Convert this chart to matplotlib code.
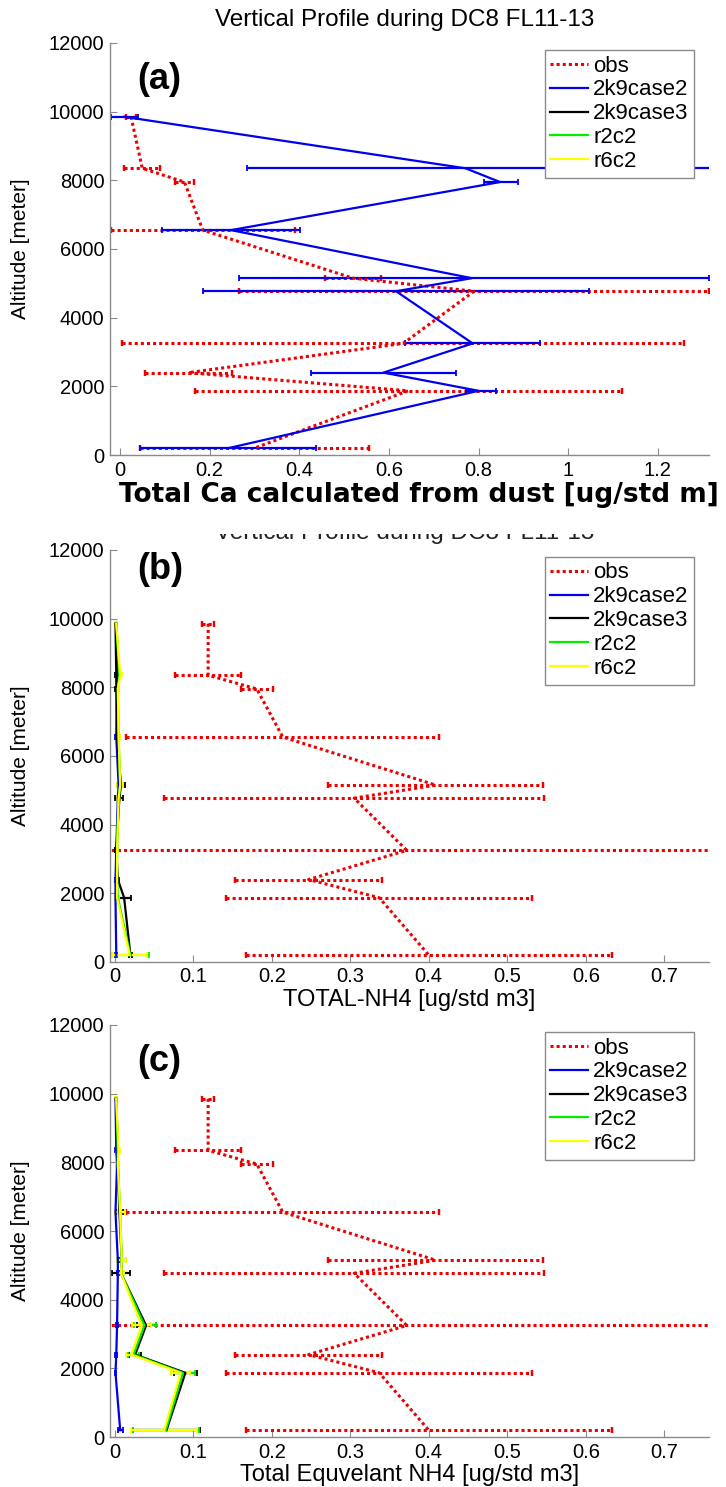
import matplotlib
matplotlib.use("Agg")
import matplotlib.pyplot as plt
from matplotlib.ticker import FuncFormatter, MultipleLocator
from matplotlib.transforms import Bbox, TransformedBbox

plt.rcParams['font.family'] = ['Liberation Sans', 'DejaVu Sans']

# flight levels of the DC8 profile (m)
altitude = [9850, 8350, 7950, 6550, 5150, 4770, 3250, 2400, 1870, 200]

# (a) total Ca from dust
ca_obs = [0.025, 0.05, 0.144, 0.185, 0.52, 0.79, 0.632, 0.153, 0.643, 0.30]
ca_obs_err = [0.012, 0.04, 0.022, 0.205, 0.062, 0.525, 0.627, 0.097, 0.476, 0.255]
ca_case2 = [0.01, 0.771, 0.848, 0.248, 0.785, 0.616, 0.787, 0.588, 0.80, 0.242]
ca_case2_err_lo = [0.03, 0.487, 0.036, 0.153, 0.52, 0.431, 0.151, 0.161, 0.029, 0.197]
ca_case2_err_hi = [0.03, 0.56, 0.041, 0.153, 0.53, 0.431, 0.151, 0.161, 0.039, 0.196]

# (b) TOTAL-NH4
nh4_obs = [0.119, 0.119, 0.181, 0.214, 0.409, 0.305, 0.372, 0.247, 0.337, 0.40]
nh4_obs_err = [0.008, 0.042, 0.02, 0.199, 0.137, 0.242, 0.40, 0.094, 0.195, 0.233]
nh4_case2 = [0.002, 0.004, 0.003, 0.002, 0.005, 0.004, 0.002, 0.001, 0.001, 0.002]
nh4_case2_err = [0.001, 0.001, 0.001, 0.001, 0.001, 0.001, 0.001, 0.001, 0.001, 0.001]
nh4_case3 = [0.001, 0.002, 0.002, 0.003, 0.008, 0.006, 0.002, 0.004, 0.012, 0.020]
nh4_case3_err = [0.001, 0.001, 0.001, 0.001, 0.005, 0.005, 0.001, 0.002, 0.009, 0.002]
nh4_r2c2 = [0.002, 0.006, 0.004, 0.005, 0.007, 0.005, 0.003, 0.003, 0.004, 0.020]
nh4_r2c2_err = [0.001, 0.002, 0.001, 0.002, 0.003, 0.002, 0.001, 0.001, 0.002, 0.024]
nh4_r6c2 = [0.002, 0.007, 0.004, 0.005, 0.007, 0.005, 0.003, 0.003, 0.003, 0.019]
nh4_r6c2_err = [0.001, 0.002, 0.001, 0.002, 0.004, 0.002, 0.001, 0.001, 0.002, 0.022]

# (c) total equivalent NH4 (obs is the same as in (b))
eqnh4_case2 = [0.001, 0.002, 0.003, 0.001, 0.004, 0.004, 0.003, 0.002, 0.001, 0.007]
eqnh4_case2_err = [0.001, 0.001, 0.001, 0.001, 0.001, 0.001, 0.001, 0.001, 0.001, 0.003]
eqnh4_case3 = [0.002, 0.004, 0.004, 0.006, 0.009, 0.008, 0.040, 0.026, 0.090, 0.066]
eqnh4_case3_err = [0.001, 0.002, 0.002, 0.004, 0.005, 0.011, 0.012, 0.008, 0.015, 0.043]
eqnh4_r2c2 = [0.002, 0.004, 0.004, 0.007, 0.009, 0.008, 0.038, 0.024, 0.087, 0.065]
eqnh4_r2c2_err = [0.001, 0.002, 0.002, 0.006, 0.006, 0.004, 0.014, 0.007, 0.015, 0.042]
eqnh4_r6c2 = [0.002, 0.005, 0.004, 0.007, 0.009, 0.008, 0.034, 0.021, 0.084, 0.063]
eqnh4_r6c2_err = [0.001, 0.002, 0.002, 0.006, 0.006, 0.004, 0.012, 0.007, 0.012, 0.042]

names = ['obs', '2k9case2', '2k9case3', 'r2c2', 'r6c2']
colors = ['#ee0000', '#0000ee', '#000000', '#00ee00', '#ffff00']
DOTS = (0, (1, 1))


def profile(ax, x, err, color, dotted=False):
    lw = 2.2 if dotted else 1.6
    ls = DOTS if dotted else '-'
    eb = ax.errorbar(x, altitude, xerr=err, color=color, linestyle=ls, lw=lw,
                     elinewidth=lw, capsize=2.5, capthick=lw * 0.8)
    if dotted:
        eb[2][0].set_linestyle(DOTS)
    return eb[0]


def style_axes(ax, step, xlim):
    ax.set_ylim(0, 12000)
    ax.set_xlim(*xlim)
    ax.yaxis.set_major_locator(MultipleLocator(2000))
    ax.xaxis.set_major_locator(MultipleLocator(step))
    ax.xaxis.set_major_formatter(FuncFormatter(lambda v, p: f'{v:g}'))
    for s in ['top', 'right']:
        ax.spines[s].set_visible(False)
    for s in ['left', 'bottom']:
        ax.spines[s].set_color('#8a8a8a')
        ax.spines[s].set_linewidth(1.0)
    ax.tick_params(direction='in', length=5, width=0.8, color='#8a8a8a',
                   labelsize=14.5, pad=4)
    ax.set_ylabel('Altitude [meter]', fontsize=15)
    ax.yaxis.set_label_coords(-0.150, 0.5)
    ax.yaxis.label.set_va('center')


def add_legend(ax, handles):
    leg = ax.legend(handles, names, loc='upper right', bbox_to_anchor=(0.975, 0.983),
                    borderaxespad=0, fontsize=16, handlelength=1.7,
                    handletextpad=0.22, labelspacing=0.13, borderpad=0.25,
                    fancybox=False, framealpha=1, edgecolor='#8a8a8a')
    leg.get_frame().set_linewidth(1.0)


fig = plt.figure(figsize=(7.26, 14.87), dpi=100)
ax_a = fig.add_axes([0.1515, 0.6940, 0.8251, 0.2771])
ax_b = fig.add_axes([0.1515, 0.3531, 0.8251, 0.2771])
ax_c = fig.add_axes([0.1515, 0.0336, 0.8251, 0.2771])

# (a)
h_obs = profile(ax_a, ca_obs, ca_obs_err, colors[0], dotted=True)
h_c2 = profile(ax_a, ca_case2, [ca_case2_err_lo, ca_case2_err_hi], colors[1])
h_rest = [ax_a.plot([], [], color=c, lw=1.6)[0] for c in colors[2:]]
style_axes(ax_a, 0.2, (-0.022, 1.314))
add_legend(ax_a, [h_obs, h_c2] + h_rest)
ax_a.set_xlabel('Total Ca calculated from dust [ug/std m]', fontsize=19,
                fontweight='bold', family='DejaVu Sans')
ax_a.xaxis.set_label_coords(0.516, -0.097)
ax_a.xaxis.label.set_va('center')
ax_a.text(0.045, 0.912, '(a)', transform=ax_a.transAxes, fontsize=26,
          fontweight='bold', va='center')

# (b) and (c)
for ax, series, label, tag, tag_y in [
    (ax_b, [(nh4_case2, nh4_case2_err), (nh4_case3, nh4_case3_err),
            (nh4_r2c2, nh4_r2c2_err), (nh4_r6c2, nh4_r6c2_err)],
     'TOTAL-NH4 [ug/std m3]', '(b)', 0.952),
    (ax_c, [(eqnh4_case2, eqnh4_case2_err), (eqnh4_case3, eqnh4_case3_err),
            (eqnh4_r2c2, eqnh4_r2c2_err), (eqnh4_r6c2, eqnh4_r6c2_err)],
     'Total Equvelant NH4 [ug/std m3]', '(c)', 0.912),
]:
    handles = [profile(ax, nh4_obs, nh4_obs_err, colors[0], dotted=True)]
    for (vals, errs), c in zip(series, colors[1:]):
        handles.append(profile(ax, vals, errs, c))
    style_axes(ax, 0.1, (-0.006, 0.757))
    add_legend(ax, handles)
    ax.set_xlabel(label, fontsize=17)
    ax.xaxis.set_label_coords(0.5, -0.093)
    ax.xaxis.label.set_va('center')
    ax.text(0.045, tag_y, tag, transform=ax.transAxes, fontsize=26,
            fontweight='bold', va='center')

title = 'Vertical Profile during DC8 FL11-13'
fig.text(0.558, 1 - 20 / 1487, title, fontsize=17.5, ha='center', va='center')
# second title sits under the bold label above, only its lower part shows
t_b = fig.text(0.558, 1 - 533 / 1487, title, fontsize=17.5, ha='center',
               va='center', color='#222222')
t_b.set_clip_box(TransformedBbox(Bbox([[0, 0], [1, 1 - 534 / 1487]]),
                                 fig.transFigure))

fig.savefig('out.png', dpi=100, facecolor='white')
